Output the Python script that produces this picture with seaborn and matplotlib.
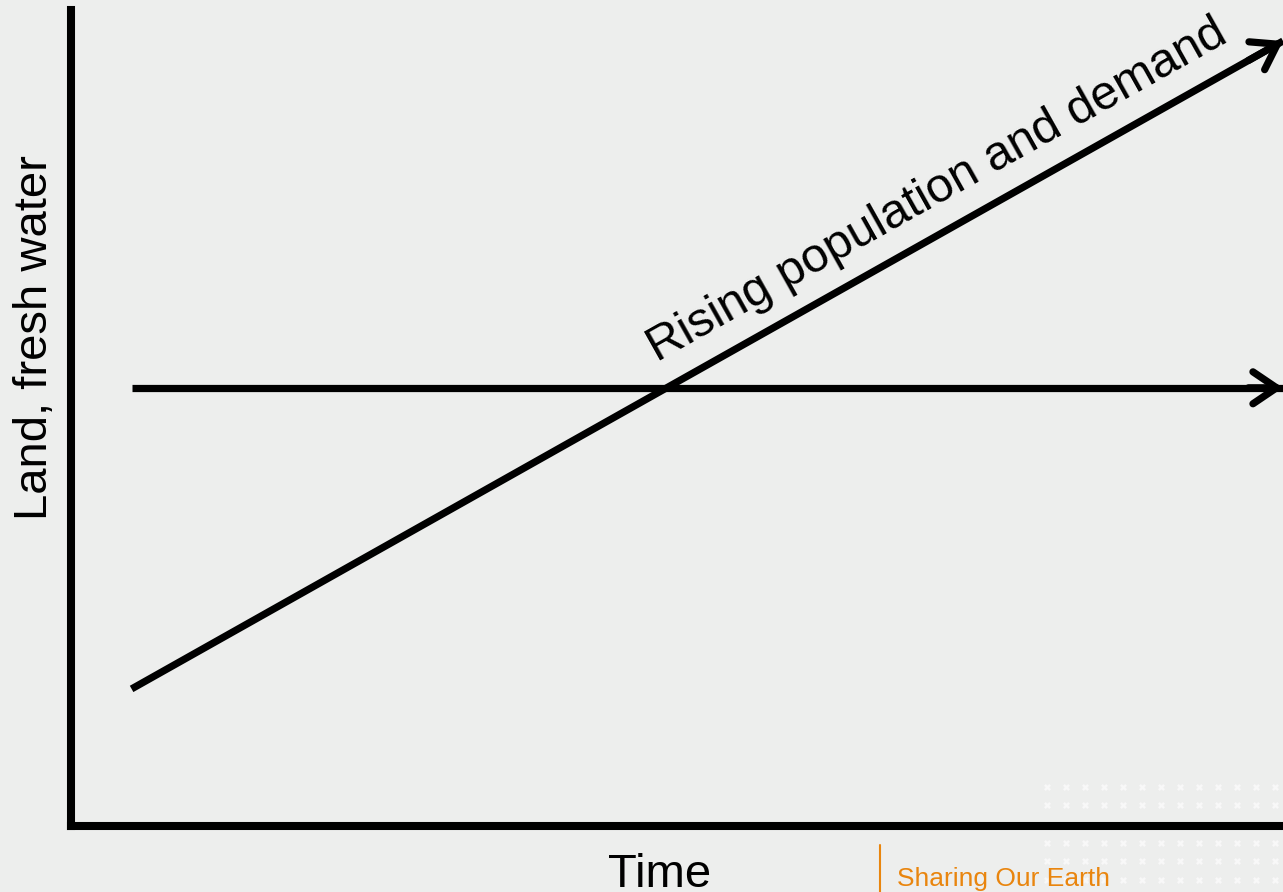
import numpy as np
import pandas as pd
import matplotlib
matplotlib.use("Agg")
import matplotlib.pyplot as plt
import seaborn as sns

# ---- data (conceptual chart) ----
time_pts = [0.5, 10.0]
supply_vals = [5.37, 5.37]          # land, fresh water (flat)
demand_vals = [1.68, 9.62]          # rising population and demand
series_names = ["Supply", "Demand"]
x_label = "Time"
y_label = "Land, fresh water"
demand_label = "Rising population and demand"
brand_text = "Sharing Our Earth"

BG = "#EDEEED"
ORANGE = "#E9850E"

sns.set_theme(style="white")
plt.rcParams['font.family'] = ['Liberation Sans', 'DejaVu Sans']

W, H = 1283, 892
fig = plt.figure(figsize=(W / 100, H / 100), dpi=100, facecolor=BG)

# decorative dot pattern in bottom right
deco = fig.add_axes([0, 0, 1, 1], facecolor="none")
deco.set_xlim(0, W); deco.set_ylim(H, 0); deco.axis("off")
gx = np.arange(1047, W + 5, 19)
for gy in [787, 805, 843, 861, 880]:
    deco.scatter(gx, np.full_like(gx, gy), marker="x", s=14, linewidths=1.8,
                 color="#F8F8F8", zorder=0)

ax = fig.add_axes([71 / W, (H - 826) / H, (W - 71) / W, (826 - 10) / H])
ax.set_facecolor("none")
df = pd.DataFrame({
    "time": time_pts * 2,
    "value": supply_vals + demand_vals,
    "series": [series_names[0]] * 2 + [series_names[1]] * 2,
})
sns.lineplot(data=df, x="time", y="value", hue="series",
             palette=["black", "black"], linewidth=5.2, legend=False, ax=ax,
             solid_capstyle="butt")
ax.set_xlim(0, 10)
ax.set_ylim(0, 10)
ax.set_xticks([]); ax.set_yticks([])
ax.set_xlabel(""); ax.set_ylabel("")
for s in ["top", "right"]:
    ax.spines[s].set_visible(False)
for s in ["left", "bottom"]:
    ax.spines[s].set_color("black")
    ax.spines[s].set_linewidth(5.8)

# arrowheads
for vals in [supply_vals, demand_vals]:
    x0, x1 = time_pts
    y0, y1 = vals
    t = 0.97
    ax.annotate("", xy=(x1, y1), xytext=(x0 + t * (x1 - x0), y0 + t * (y1 - y0)),
                arrowprops=dict(arrowstyle="->,head_length=1.7,head_width=1.15",
                                color="black", lw=5.2, shrinkA=0, shrinkB=0,
                                mutation_scale=10, capstyle="round",
                                joinstyle="round"),
                annotation_clip=False)

# label along the demand line
ax.text(7.15, 7.78, demand_label, rotation=29.3, rotation_mode="anchor",
        ha="center", va="center", fontsize=35, color="black")

fig.text(35 / W, 1 - 338 / H, y_label, rotation=90, ha="center", va="center",
         fontsize=34, color="black")
fig.text(660 / W, 1 - 887 / H, x_label, ha="center", va="baseline",
         fontsize=34, color="black")

# brand
deco.plot([880, 880], [845, 892], color=ORANGE, lw=1.5)
fig.text(897 / W, 1 - 886 / H, brand_text, ha="left", va="baseline",
         fontsize=19, color=ORANGE)

fig.savefig("out.png", dpi=100, facecolor=BG)
